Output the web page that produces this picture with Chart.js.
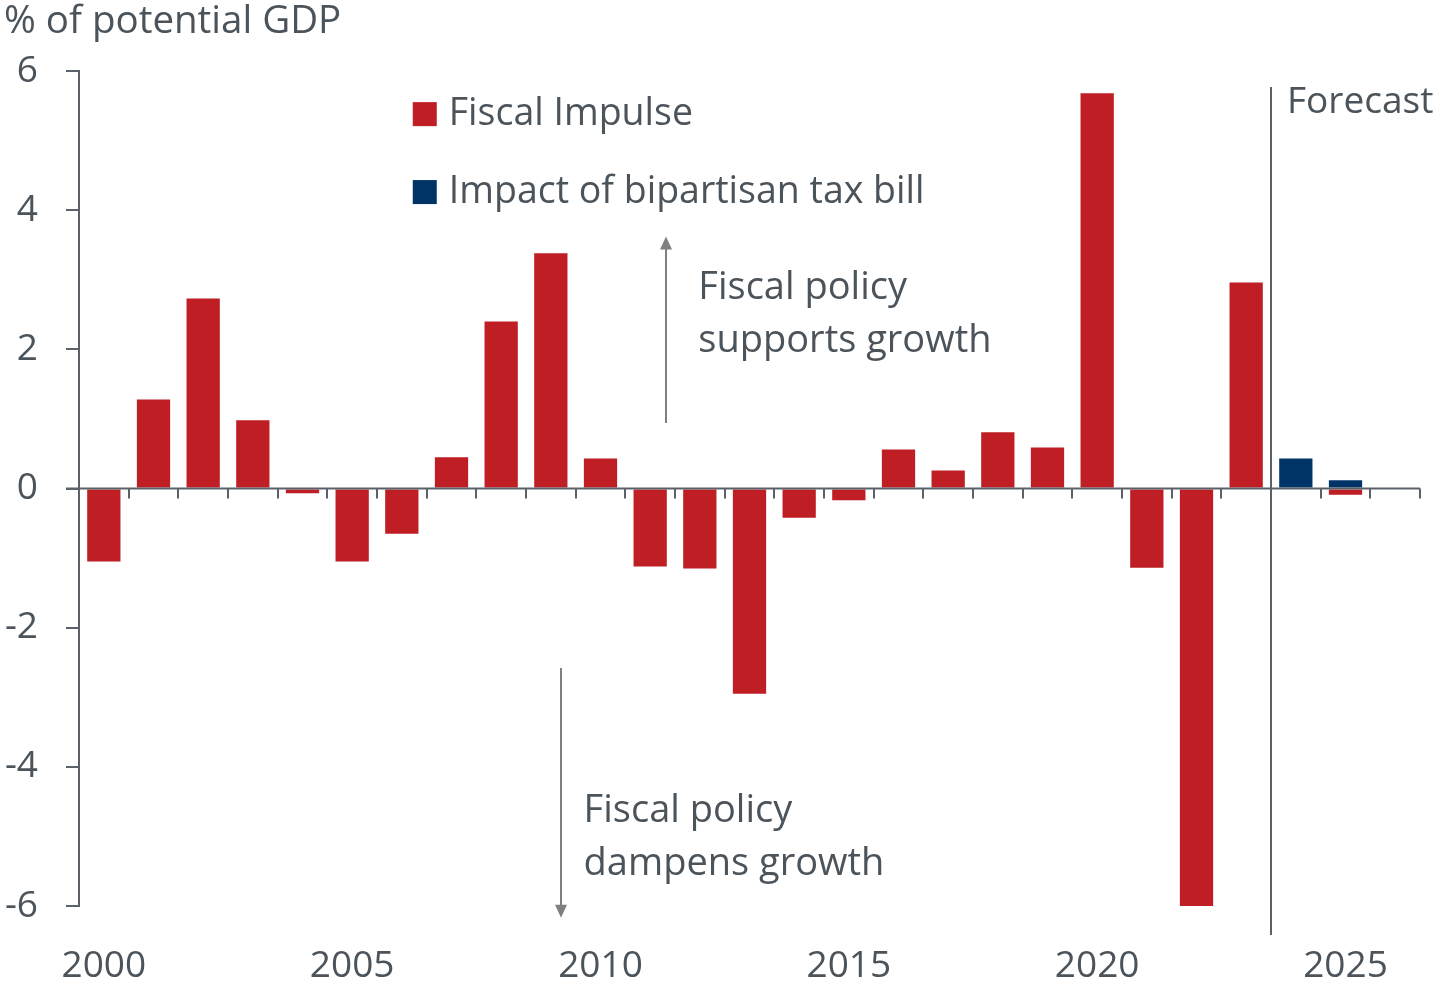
<!DOCTYPE html>
<html>
<head>
<meta charset="utf-8">
<script src="https://cdn.jsdelivr.net/npm/chart.js@4/dist/chart.umd.min.js"></script>
<style>
  html, body { margin: 0; padding: 0; background: #fff; }
  #wrap { width: 1435px; height: 984px; }
</style>
</head>
<body>
<div id="wrap"><canvas id="fiscalChart"></canvas></div>
<script>
const years = ['2000', '2001', '2002', '2003', '2004', '2005', '2006', '2007', '2008', '2009',
    '2010', '2011', '2012', '2013', '2014', '2015', '2016', '2017', '2018', '2019',
    '2020', '2021', '2022', '2023', '2024', '2025', '2026'];
const fiscalImpulse = [-1.05, 1.28, 2.73, 0.98, -0.07, -1.05, -0.65, 0.45, 2.40, 3.38,
    0.43, -1.12, -1.15, -2.95, -0.42, -0.17, 0.56, 0.26, 0.81, 0.59,
    5.68, -1.14, -6.0, 2.96, 0, -0.09, null];
const taxBill = [null, null, null, null, null, null, null, null, null, null,
    null, null, null, null, null, null, null, null, null, null,
    null, null, null, null, 0.43, 0.12, null];
const yTicks = [-6, -4, -2, 0, 2, 4, 6];
const forecastStart = '2024';

const RED = '#be1e24';
const BLUE = '#003366';
const TEXT = '#4b535b';
const AXIS = '#5b6168';
const FONT = '"Open Sans", "Noto Sans", sans-serif';

// zero line with tick marks between years, forecast divider, legend and notes
const extras = {
    id: 'extras',
    afterDatasetsDraw(chart) {
        const ctx = chart.ctx;
        const x = chart.scales.x;
        const y = chart.scales.y;
        const area = chart.chartArea;
        const step = x.getPixelForValue(1) - x.getPixelForValue(0);
        const y0 = y.getPixelForValue(0);

        ctx.save();
        ctx.strokeStyle = AXIS;
        ctx.lineWidth = 2;
        ctx.beginPath();
        ctx.moveTo(area.left - 13, y0);
        ctx.lineTo(area.right, y0);
        for (let i = 1; i <= years.length; i++) {
            const px = Math.round(x.getPixelForValue(i) - step / 2);
            ctx.moveTo(px, y0);
            ctx.lineTo(px, y0 + 10);
        }
        ctx.stroke();

        // forecast divider
        const fx = Math.round(x.getPixelForValue(years.indexOf(forecastStart)) - step / 2);
        ctx.beginPath();
        ctx.moveTo(fx, y.getPixelForValue(5.77));
        ctx.lineTo(fx, area.bottom + 29);
        ctx.stroke();

        ctx.fillStyle = TEXT;
        ctx.font = '37px ' + FONT;
        ctx.textBaseline = 'middle';
        ctx.textAlign = 'left';
        ctx.fillText('Forecast', fx + 16, y.getPixelForValue(5.55));

        // y axis title
        ctx.font = '38.5px ' + FONT;
        ctx.fillText('% of potential GDP', 4, 22);

        // legend
        ctx.font = '37.5px ' + FONT;
        const legendX = x.getPixelForValue(6.22);
        chart.data.datasets.forEach((ds, k) => {
            const cy = y.getPixelForValue(5.38 - k * 1.12);
            ctx.fillStyle = ds.backgroundColor;
            ctx.fillRect(legendX, cy - 12, 24, 24);
            ctx.fillStyle = TEXT;
            ctx.fillText(ds.label, legendX + 36, cy);
        });

        // direction notes
        const arrow = (ax, yFrom, yTo) => {
            const px = Math.round(x.getPixelForValue(ax));
            const p1 = y.getPixelForValue(yFrom);
            const p2 = y.getPixelForValue(yTo);
            const dir = p2 < p1 ? 1 : -1;
            ctx.strokeStyle = '#808080';
            ctx.fillStyle = '#808080';
            ctx.lineWidth = 2;
            ctx.beginPath();
            ctx.moveTo(px, p1);
            ctx.lineTo(px, p2 + dir * 10);
            ctx.stroke();
            ctx.beginPath();
            ctx.moveTo(px, p2);
            ctx.lineTo(px - 6, p2 + dir * 13);
            ctx.lineTo(px + 6, p2 + dir * 13);
            ctx.closePath();
            ctx.fill();
        };
        arrow(11.32, 0.94, 3.62);
        arrow(9.2, -2.58, -6.17);

        ctx.fillStyle = TEXT;
        ctx.font = '38px ' + FONT;
        const upX = x.getPixelForValue(11.97);
        ctx.fillText('Fiscal policy', upX, y.getPixelForValue(2.88));
        ctx.fillText('supports growth', upX, y.getPixelForValue(2.12));
        const downX = x.getPixelForValue(9.66);
        ctx.fillText('Fiscal policy', downX, y.getPixelForValue(-4.64));
        ctx.fillText('dampens growth', downX, y.getPixelForValue(-5.4));
        ctx.restore();
    }
};

const ctx = document.getElementById('fiscalChart');
new Chart(ctx, {
    type: 'bar',
    data: {
        labels: years,
        datasets: [{
            label: 'Fiscal Impulse',
            data: fiscalImpulse,
            backgroundColor: RED,
            barPercentage: 0.67,
            categoryPercentage: 1
        }, {
            label: 'Impact of bipartisan tax bill',
            data: taxBill,
            backgroundColor: BLUE,
            barPercentage: 0.67,
            categoryPercentage: 1
        }]
    },
    options: {
        responsive: true,
        maintainAspectRatio: false,
        animation: false,
        layout: {
            padding: { top: 71, right: 15, left: 0, bottom: 0 }
        },
        plugins: {
            legend: { display: false },
            tooltip: { enabled: false }
        },
        scales: {
            x: {
                stacked: true,
                grid: { display: false },
                border: { display: false },
                ticks: {
                    autoSkip: false,
                    maxRotation: 0,
                    padding: 30,
                    color: TEXT,
                    font: { family: FONT, size: 37 },
                    callback: function (val) {
                        const yr = Number(this.getLabelForValue(val));
                        return yr % 5 === 0 ? String(yr) : '';
                    }
                },
                afterFit(scale) { scale.height = 78; }
            },
            y: {
                stacked: true,
                min: -6,
                max: 6,
                afterBuildTicks(scale) {
                    scale.ticks = yTicks.map(v => ({ value: v }));
                },
                grid: {
                    drawOnChartArea: false,
                    drawTicks: true,
                    tickLength: 13,
                    color: AXIS,
                    lineWidth: 2
                },
                border: { display: true, color: AXIS, width: 2 },
                ticks: {
                    padding: 28,
                    color: TEXT,
                    font: { family: FONT, size: 37 }
                },
                afterFit(scale) { scale.width = 79; }
            }
        }
    },
    plugins: [extras]
});
</script>
</body>
</html>
